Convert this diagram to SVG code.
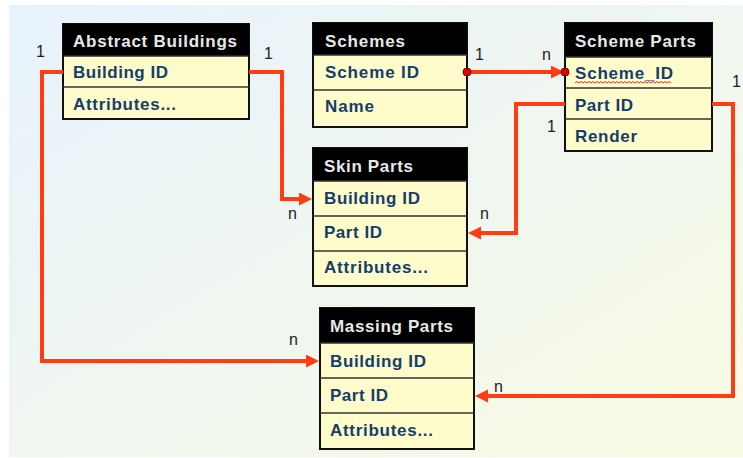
<svg xmlns="http://www.w3.org/2000/svg" width="743" height="458" viewBox="0 0 743 458">
<defs>
<linearGradient id="bg" x1="0" y1="0" x2="1" y2="1">
<stop offset="0" stop-color="#e7f2fc"/>
<stop offset="1" stop-color="#f8fbe4"/>
</linearGradient>
<marker id="arr" markerUnits="userSpaceOnUse" markerWidth="14" markerHeight="14" refX="2" refY="6.5" orient="auto">
<path d="M0,0 L13,6.5 L0,13 z" fill="#ff3c12"/>
</marker>
</defs>
<style>
.box{fill:#fefcca;stroke:#111;stroke-width:2}
.hdr{fill:#000}
.div{stroke:#333;stroke-width:1.5}
.ht{font-family:"Liberation Sans",Arial,sans-serif;font-weight:bold;font-size:17px;fill:#e8e8e8}
.rt{font-family:"Liberation Sans",Arial,sans-serif;font-weight:bold;font-size:17px;fill:#143d6e}
.lbl{font-family:"Liberation Sans",Arial,sans-serif;font-size:16px;fill:#222}
.conn{fill:none;stroke:#ff3c12;stroke-width:4;stroke-linejoin:miter}
.dot{fill:#e00000;stroke:#600;stroke-width:1}
</style>
<rect x="9" y="5" width="734" height="452" fill="url(#bg)"/>

<g id="abstract-buildings">
<rect class="box" x="63" y="24" width="186" height="95"/>
<rect class="hdr" x="63" y="24" width="186" height="32"/>
<line class="div" x1="63" y1="56" x2="249" y2="56"/>
<line class="div" x1="63" y1="87" x2="249" y2="87"/>
<text class="ht" x="73" y="47" textLength="164">Abstract Buildings</text>
<text class="rt" x="73" y="78" textLength="95">Building ID</text>
<text class="rt" x="73" y="110" textLength="103">Attributes...</text>
</g>

<g id="schemes">
<rect class="box" x="313" y="23" width="154" height="104"/>
<rect class="hdr" x="313" y="23" width="154" height="32"/>
<line class="div" x1="313" y1="55" x2="467" y2="55"/>
<line class="div" x1="313" y1="90" x2="467" y2="90"/>
<text class="ht" x="325" y="47" textLength="80">Schemes</text>
<text class="rt" x="325" y="78" textLength="94">Scheme ID</text>
<text class="rt" x="325" y="112" textLength="49">Name</text>
</g>

<g id="scheme-parts">
<rect class="box" x="565" y="23" width="147" height="128"/>
<rect class="hdr" x="565" y="23" width="147" height="34"/>
<line class="div" x1="565" y1="57" x2="712" y2="57"/>
<line class="div" x1="565" y1="88" x2="712" y2="88"/>
<line class="div" x1="565" y1="119" x2="712" y2="119"/>
<text class="ht" x="575" y="47" textLength="121">Scheme Parts</text>
<text class="rt" x="575" y="79" textLength="98">Scheme_ID</text>
<path d="M575,83 l2,-1.5 l2,1.5 l2,-1.5 l2,1.5 l2,-1.5 l2,1.5 l2,-1.5 l2,1.5 l2,-1.5 l2,1.5 l2,-1.5 l2,1.5 l2,-1.5 l2,1.5 l2,-1.5 l2,1.5 l2,-1.5 l2,1.5 l2,-1.5 l2,1.5 l2,-1.5 l2,1.5 l2,-1.5 l2,1.5 l2,-1.5 l2,1.5 l2,-1.5 l2,1.5 l2,-1.5 l2,1.5 l2,-1.5 l2,1.5 l2,-1.5 l2,1.5 l2,-1.5 l2,1.5 l2,-1.5 l2,1.5 l2,-1.5 l2,1.5 l2,-1.5 l2,1.5 l2,-1.5 l2,1.5 l2,-1.5 l2,1.5 l2,-1.5 l2,1.5" fill="none" stroke="#e03030" stroke-width="1"/>
<text class="rt" x="575" y="111" textLength="58">Part ID</text>
<text class="rt" x="575" y="142" textLength="62">Render</text>
</g>

<g id="skin-parts">
<rect class="box" x="313" y="148" width="154" height="138"/>
<rect class="hdr" x="313" y="148" width="154" height="33"/>
<line class="div" x1="313" y1="181" x2="467" y2="181"/>
<line class="div" x1="313" y1="216" x2="467" y2="216"/>
<line class="div" x1="313" y1="251" x2="467" y2="251"/>
<text class="ht" x="324" y="172" textLength="89">Skin Parts</text>
<text class="rt" x="324" y="204" textLength="96">Building ID</text>
<text class="rt" x="324" y="238" textLength="58">Part ID</text>
<text class="rt" x="324" y="273" textLength="104">Attributes...</text>
</g>

<g id="massing-parts">
<rect class="box" x="320" y="308" width="154" height="141"/>
<rect class="hdr" x="320" y="308" width="154" height="35"/>
<line class="div" x1="320" y1="343" x2="474" y2="343"/>
<line class="div" x1="320" y1="378" x2="474" y2="378"/>
<line class="div" x1="320" y1="413" x2="474" y2="413"/>
<text class="ht" x="330" y="332" textLength="123">Massing Parts</text>
<text class="rt" x="330" y="367" textLength="96">Building ID</text>
<text class="rt" x="330" y="401" textLength="58">Part ID</text>
<text class="rt" x="330" y="436" textLength="103">Attributes...</text>
</g>

<g id="connectors">
<path class="conn" d="M63,72 H42 V361 H308" marker-end="url(#arr)"/>
<path class="conn" d="M249,72 H282 V199 H301" marker-end="url(#arr)"/>
<path class="conn" d="M467,72 H553" marker-end="url(#arr)"/>
<path class="conn" d="M565,104 H516 V233 H479" marker-end="url(#arr)"/>
<path class="conn" d="M712,104 H733 V396 H486" marker-end="url(#arr)"/>
<circle class="dot" cx="467" cy="72" r="4"/>
<circle class="dot" cx="565" cy="72" r="4"/>
<text class="lbl" x="36" y="57">1</text>
<text class="lbl" x="264" y="59">1</text>
<text class="lbl" x="475" y="60">1</text>
<text class="lbl" x="542" y="60">n</text>
<text class="lbl" x="732" y="87">1</text>
<text class="lbl" x="547" y="132">1</text>
<text class="lbl" x="288" y="219">n</text>
<text class="lbl" x="480" y="219">n</text>
<text class="lbl" x="289" y="345">n</text>
<text class="lbl" x="494" y="392">n</text>
</g>
</svg>
